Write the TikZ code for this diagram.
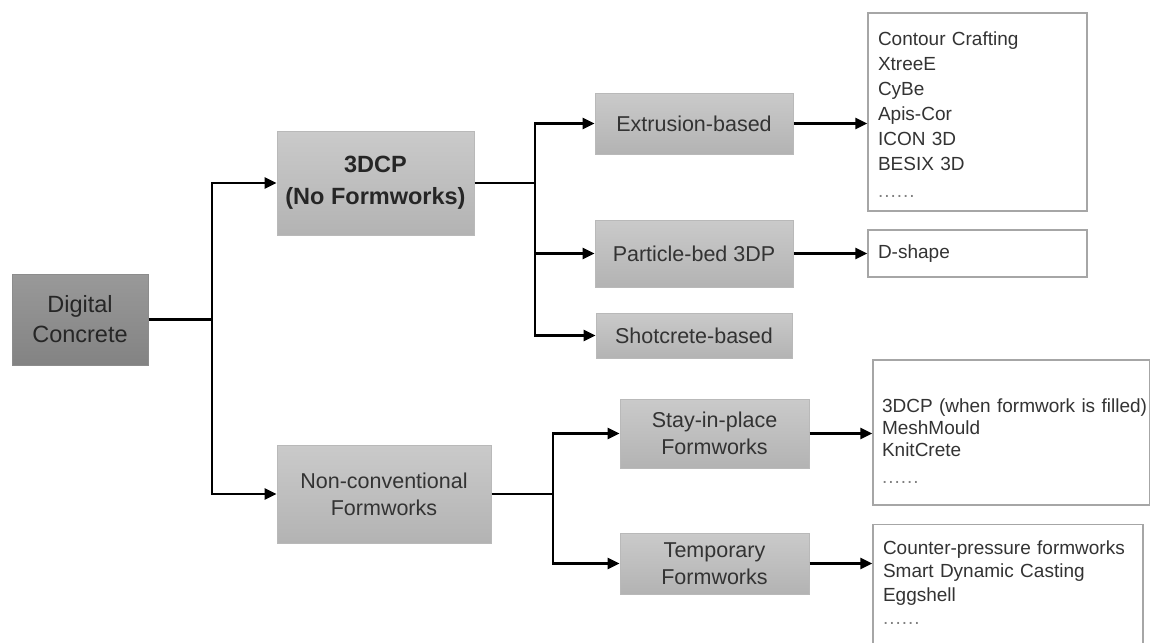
\documentclass[tikz,border=0pt]{standalone}
\usepackage{fontspec}
\setmainfont{Liberation Sans}
\usetikzlibrary{arrows.meta}
\definecolor{boxtop}{HTML}{CACACA}
\definecolor{boxbot}{HTML}{B3B3B3}
\definecolor{dctop}{HTML}{999999}
\definecolor{dcbot}{HTML}{838383}
\definecolor{txt}{HTML}{333333}
\tikzset{
  graybox/.style={draw=gray!55, line width=1pt, top color=boxtop, bottom color=boxbot, text=txt, align=center, inner sep=0pt, font=\fontsize{21.5}{27}\selectfont},
  darkbox/.style={graybox, draw=gray!90, top color=dctop, bottom color=dcbot, text=black!85, font=\fontsize{23.5}{30}\selectfont},
  listbox/.style={draw=gray!70, line width=1.3pt, fill=white, text=txt, align=left, inner ysep=0pt, inner xsep=10pt, font=\fontsize{19}{23.5}\selectfont},
  link/.style={line width=2.6pt},
  arr/.style={line width=2.6pt, -{Triangle[length=12pt,width=11pt]}},
}
\newcommand{\moredots}{{\color{gray}.\kern1pt.\kern1pt.\kern1pt.\kern1pt.\kern1pt.}}
\begin{document}
\begin{tikzpicture}[x=1pt,y=-1pt]
  \clip (0,0) rectangle (1150,642);
  \fill[white] (0,0) rectangle (1150,642);
  % gray boxes
  \node[darkbox, minimum width=136, minimum height=91] (dc) at (80,319.5) {Digital\\Concrete};
  \node[graybox, font=\bfseries\fontsize{23.5}{32}\selectfont, text=black!85, minimum width=197, minimum height=104] (tdcp) at (375.5,183) {3DCP\\(No Formworks)};
  \node[graybox, minimum width=214, minimum height=98] (ncf) at (384,494) {Non-conventional\\Formworks};
  \node[graybox, minimum width=198, minimum height=61] (ext) at (694,123.5) {Extrusion-based};
  \node[graybox, minimum width=198, minimum height=67] (pbed) at (694,253.5) {Particle-bed 3DP};
  \node[graybox, minimum width=196, minimum height=45] (shot) at (694,335.5) {Shotcrete-based};
  \node[graybox, minimum width=189, minimum height=69] (sip) at (714.5,433.5) {Stay-in-place\\Formworks};
  \node[graybox, minimum width=189, minimum height=61] (temp) at (714.5,563.5) {Temporary\\Formworks};
  % lists
  \node[listbox, text width=199, minimum height=198, font=\fontsize{19}{25}\selectfont] (lext) at (977.5,112) {\rule{0pt}{19pt}Contour Crafting\\XtreeE\\CyBe\\Apis-Cor\\ICON 3D\\BESIX 3D\\[2pt]\moredots};
  \node[listbox, text width=199, minimum height=47] (lpbed) at (977.5,253.5) {D-shape};
  \node[listbox, inner xsep=9pt, text width=259, minimum height=145, font=\fontsize{19}{22}\selectfont] (lsip) at (1011.5,432.5) {\rule{0pt}{30pt}\mbox{3DCP (when formwork is filled)}\\MeshMould\\KnitCrete\\[5pt]\moredots};
  \node[listbox, text width=250, anchor=north, inner ysep=16pt] (ltemp) at (1008,524) {Counter-pressure formworks\\Smart Dynamic Casting\\Eggshell\\\moredots\rule[-30pt]{0pt}{0pt}};
  % junctions
  \coordinate (j1) at (212,319.5);
  \coordinate (j2) at (535,183);
  \coordinate (j3) at (553,494);
  % connectors
  \draw[link] (dc.east) -- (j1);
  \draw[arr] (j1) |- (tdcp.west);
  \draw[arr] (j1) |- (ncf.west);
  \draw[link] (tdcp.east) -- (j2);
  \draw[arr] (j2) |- (ext.west);
  \draw[arr] (j2) |- (pbed.west);
  \draw[arr] (j2) |- (shot.west);
  \draw[link] (ncf.east) -- (j3);
  \draw[arr] (j3) |- (sip.west);
  \draw[arr] (j3) |- (temp.west);
  \draw[arr] (ext.east) -- (ext.east -| lext.west);
  \draw[arr] (pbed.east) -- (pbed.east -| lpbed.west);
  \draw[arr] (sip.east) -- (sip.east -| lsip.west);
  \draw[arr] (temp.east) -- (temp.east -| ltemp.west);
\end{tikzpicture}
\end{document}
